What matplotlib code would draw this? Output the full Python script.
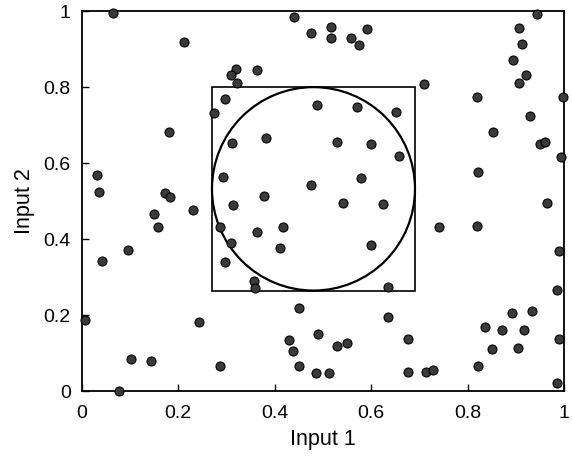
import matplotlib
matplotlib.use('Agg')
import matplotlib.pyplot as plt
from matplotlib.patches import Rectangle, Ellipse

# sample points
input_1 = [0.064, 0.211, 0.440, 0.475, 0.319, 0.310, 0.364, 0.321, 0.296, 0.275,
           0.487, 0.180, 0.312, 0.382, 0.032, 0.035, 0.292, 0.475, 0.173, 0.182,
           0.377, 0.313, 0.231, 0.945, 0.516, 0.516, 0.592, 0.559, 0.575, 0.907,
           0.913, 0.894, 0.921, 0.906, 0.710, 0.819, 0.997, 0.570, 0.652, 0.930,
           0.852, 0.529, 0.599, 0.950, 0.961, 0.657, 0.993, 0.822, 0.578, 0.541,
           0.625, 0.965, 0.149, 0.159, 0.287, 0.363, 0.417, 0.095, 0.309, 0.411,
           0.041, 0.296, 0.357, 0.360, 0.450, 0.007, 0.244, 0.489, 0.429, 0.439,
           0.102, 0.143, 0.287, 0.450, 0.485, 0.513, 0.077, 0.740, 0.819, 0.599,
           0.990, 0.634, 0.985, 0.634, 0.529, 0.551, 0.676, 0.892, 0.934, 0.836,
           0.872, 0.917, 0.990, 0.850, 0.905, 0.676, 0.714, 0.729, 0.822, 0.985]
input_2 = [0.996, 0.918, 0.984, 0.943, 0.849, 0.833, 0.845, 0.810, 0.770, 0.733,
           0.753, 0.682, 0.654, 0.666, 0.568, 0.524, 0.563, 0.543, 0.521, 0.511,
           0.514, 0.489, 0.477, 0.993, 0.958, 0.929, 0.954, 0.929, 0.911, 0.956,
           0.913, 0.872, 0.832, 0.810, 0.807, 0.775, 0.773, 0.747, 0.734, 0.724,
           0.682, 0.656, 0.651, 0.651, 0.657, 0.618, 0.616, 0.576, 0.561, 0.496,
           0.493, 0.496, 0.466, 0.433, 0.431, 0.420, 0.431, 0.372, 0.390, 0.377,
           0.344, 0.339, 0.289, 0.272, 0.220, 0.188, 0.182, 0.150, 0.134, 0.105,
           0.085, 0.079, 0.067, 0.067, 0.048, 0.049, 0.000, 0.432, 0.435, 0.385,
           0.369, 0.274, 0.267, 0.195, 0.120, 0.128, 0.138, 0.206, 0.210, 0.169,
           0.162, 0.162, 0.138, 0.111, 0.114, 0.052, 0.052, 0.055, 0.067, 0.023]

# region box (x0, y0, x1, y1)
box = [0.270, 0.265, 0.691, 0.800]

ticks = [0, 0.2, 0.4, 0.6, 0.8, 1]
tick_labels = ['0', '0.2', '0.4', '0.6', '0.8', '1']

plt.rcParams['font.family'] = ['Liberation Sans', 'DejaVu Sans']

fig = plt.figure(figsize=(5.72, 4.62), dpi=100)
ax = fig.add_axes([0.143, 0.153, 0.843, 0.823])

# points
ax.scatter(input_1, input_2, s=42, c='#3a3a3a', edgecolors='black', linewidths=0.8,
           zorder=3, clip_on=False)

# square and inscribed circle
w = box[2] - box[0]
h = box[3] - box[1]
ax.add_patch(Rectangle((box[0], box[1]), w, h, fill=False, edgecolor='black', linewidth=1.2))
ax.add_patch(Ellipse((box[0] + w / 2, box[1] + h / 2), w, h, fill=False,
                     edgecolor='black', linewidth=1.6))

ax.set_xlim(0, 1)
ax.set_ylim(0, 1)
ax.set_xticks(ticks)
ax.set_xticklabels(tick_labels)
ax.set_yticks(ticks)
ax.set_yticklabels(tick_labels)
ax.tick_params(direction='in', length=5, width=1, labelsize=14, pad=8)
ax.tick_params(axis='x', pad=10)
for s in ax.spines.values():
    s.set_linewidth(1.3)

ax.set_xlabel('Input 1', fontsize=15.5, labelpad=5)
ax.set_ylabel('Input 2', fontsize=15.5, labelpad=6)

fig.savefig('out.png', dpi=100)
